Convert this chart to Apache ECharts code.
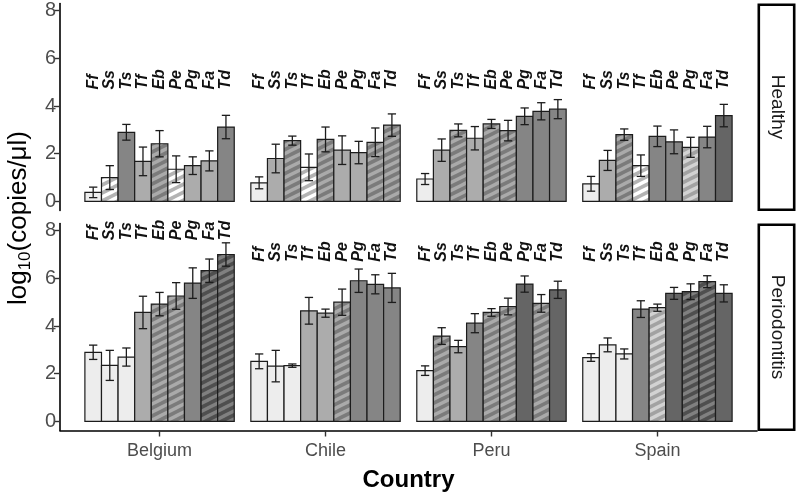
<!DOCTYPE html>
<html><head><meta charset="utf-8">
<script src="https://cdn.jsdelivr.net/npm/echarts@6/dist/echarts.min.js"></script>
<style>html,body{margin:0;padding:0;background:#fff}#c{width:800px;height:496px}</style>
</head><body><div id="c"></div>
<script>
// ---------------- data ----------------
const countries = ['Belgium', 'Chile', 'Peru', 'Spain'];
const species = ['Ff', 'Ss', 'Ts', 'Tf', 'Eb', 'Pe', 'Pg', 'Fa', 'Td'];
const conditions = ['Healthy', 'Periodontitis'];
const yTicks = [0, 2, 4, 6, 8];

// mean log10(copies/µl), one row per country (Belgium, Chile, Peru, Spain)
const healthyMean = [
  [0.38, 1.00, 2.90, 1.68, 2.42, 1.35, 1.50, 1.70, 3.12],
  [0.78, 1.80, 2.55, 1.43, 2.60, 2.15, 2.05, 2.48, 3.20],
  [0.94, 2.15, 2.98, 2.65, 3.25, 2.97, 3.57, 3.78, 3.87],
  [0.74, 1.72, 2.80, 1.50, 2.73, 2.50, 2.27, 2.70, 3.60]
];
const healthyErr = [
  [0.22, 0.50, 0.33, 0.60, 0.55, 0.56, 0.37, 0.42, 0.49],
  [0.25, 0.60, 0.19, 0.56, 0.52, 0.60, 0.47, 0.60, 0.47],
  [0.23, 0.47, 0.27, 0.49, 0.19, 0.43, 0.35, 0.36, 0.40],
  [0.31, 0.42, 0.24, 0.45, 0.43, 0.50, 0.42, 0.45, 0.47]
];
const perioMean = [
  [2.90, 2.35, 2.70, 4.57, 4.92, 5.26, 5.80, 6.32, 7.00],
  [2.52, 2.32, 2.34, 4.64, 4.54, 5.00, 5.90, 5.75, 5.60],
  [2.13, 3.58, 3.14, 4.12, 4.57, 4.82, 5.76, 4.95, 5.52],
  [2.68, 3.21, 2.83, 4.71, 4.77, 5.37, 5.44, 5.86, 5.37]
];
const perioErr = [
  [0.30, 0.63, 0.38, 0.68, 0.49, 0.56, 0.64, 0.49, 0.49],
  [0.31, 0.66, 0.07, 0.56, 0.17, 0.55, 0.49, 0.40, 0.61],
  [0.20, 0.35, 0.26, 0.40, 0.16, 0.35, 0.34, 0.37, 0.36],
  [0.16, 0.29, 0.21, 0.35, 0.15, 0.25, 0.33, 0.25, 0.36]
];
// fill class of each bar (solid level S0..S3, hatched class HA..HD)
const healthyClass = [
  ['S0', 'HA', 'S2', 'S1', 'HC', 'HA', 'S1', 'S1', 'S2'],
  ['S0', 'S1', 'HC', 'HA', 'HC', 'S1', 'S1', 'HC', 'HC'],
  ['S0', 'S1', 'HC', 'S1', 'HC', 'HC', 'S2', 'S2', 'S2'],
  ['S0', 'S1', 'HC', 'HA', 'S2', 'S2', 'HB', 'S2', 'S3']
];
const perioClass = [
  ['S0', 'S0', 'S0', 'S1', 'HC', 'HC', 'S2', 'HD', 'HD'],
  ['S0', 'S0', 'S0', 'S1', 'S1', 'HC', 'S2', 'S2', 'S2'],
  ['S0', 'HC', 'S1', 'S2', 'HC', 'HC', 'S3', 'HC', 'S3'],
  ['S0', 'S0', 'S0', 'S2', 'HB', 'S3', 'HD', 'HD', 'S3']
];
// height (data units) at which the species labels start, per country
const healthyLabelY = [4.69, 4.69, 4.69, 4.69];
const perioLabelY = [7.60, 6.70, 6.70, 6.70];

// ---------------- styles ----------------
const FONT = '"Liberation Sans", Arial, sans-serif';
function stripes(base, stripe) {
  const W = 16, H = 8;
  const cv = document.createElement('canvas');
  cv.width = W; cv.height = H;
  const g = cv.getContext('2d');
  g.fillStyle = base; g.fillRect(0, 0, W, H);
  g.strokeStyle = stripe; g.lineWidth = 3.4;
  for (let k = -2; k <= 2; k++) {
    g.beginPath(); g.moveTo(-W, 2 * H + k * H); g.lineTo(2 * W, -H + k * H); g.stroke();
  }
  return { image: cv, repeat: 'repeat' };
}
const palette = {
  S0: '#ededed', S1: '#acacac', S2: '#858585', S3: '#656565',
  HA: stripes('#b3b3b3', '#ffffff'),
  HB: stripes('#a2a2a2', '#d2d2d2'),
  HC: stripes('#7b7b7b', '#aaaaaa'),
  HD: stripes('#4f4f4f', '#808080')
};

const BAR_SPAN = 0.9, N = species.length, BW = BAR_SPAN / N;
function barX(c, j) { return c - BAR_SPAN / 2 + BW * (j + 0.5); }

function buildData(means, errs) {
  const out = [];
  means.forEach((row, k) => row.forEach((m, j) => out.push([k + 1, j, m, errs[k][j]])));
  return out;
}
function buildLabels(ly) {
  const out = [];
  ly.forEach((y, k) => species.forEach((s, j) => out.push([k + 1, j, y])));
  return out;
}

const means = [healthyMean, perioMean];
const errs = [healthyErr, perioErr];
const classes = [healthyClass, perioClass];
const labelYs = [healthyLabelY, perioLabelY];

const series = [];
for (let ci = 0; ci < 2; ci++) {
  const cls = classes[ci];
  series.push({
    type: 'custom', xAxisIndex: ci, yAxisIndex: ci, z: 2,
    data: buildData(means[ci], errs[ci]),
    renderItem(params, api) {
      const c = api.value(0), j = api.value(1), m = api.value(2);
      const x = barX(c, j);
      const p0 = api.coord([x - BW / 2, 0]);
      const p1 = api.coord([x + BW / 2, m]);
      const k = c - 1;
      return {
        type: 'rect',
        shape: { x: p0[0], y: p1[1], width: p1[0] - p0[0], height: p0[1] - p1[1] },
        style: { fill: palette[cls[k][j]], stroke: '#1c1c1c', lineWidth: 1.2 }
      };
    }
  });
  series.push({
    type: 'custom', xAxisIndex: ci, yAxisIndex: ci, z: 3,
    data: buildData(means[ci], errs[ci]),
    renderItem(params, api) {
      const c = api.value(0), j = api.value(1), m = api.value(2), e = api.value(3);
      const x = barX(c, j);
      const hi = api.coord([x, m + e]), lo = api.coord([x, m - e]);
      const hw = api.size([BW / 4, 0])[0];
      const st = { stroke: '#1c1c1c', lineWidth: 1.3 };
      return {
        type: 'group', children: [
          { type: 'line', shape: { x1: hi[0], y1: hi[1], x2: lo[0], y2: lo[1] }, style: st },
          { type: 'line', shape: { x1: hi[0] - hw, y1: hi[1], x2: hi[0] + hw, y2: hi[1] }, style: st },
          { type: 'line', shape: { x1: lo[0] - hw, y1: lo[1], x2: lo[0] + hw, y2: lo[1] }, style: st }
        ]
      };
    }
  });
  series.push({
    type: 'custom', xAxisIndex: ci, yAxisIndex: ci, z: 4,
    data: buildLabels(labelYs[ci]),
    renderItem(params, api) {
      const c = api.value(0), j = api.value(1), y = api.value(2);
      const p = api.coord([barX(c, j), y]);
      return {
        type: 'text', x: p[0], y: p[1], rotation: Math.PI / 2,
        style: {
          text: species[j], x: 0, y: 0, align: 'left', verticalAlign: 'middle',
          fill: '#111', font: 'italic bold 16px ' + FONT
        }
      };
    }
  });
}

const GL = 60, GW = 697, GH = 207, GT = [3.5, 223.5];
const YMIN = -0.38, YMAX = 8.3;

const chart = echarts.init(document.getElementById('c'), null, { renderer: 'canvas' });
chart.setOption({
  animation: false,
  backgroundColor: '#fff',
  grid: [
    { left: GL, width: GW, top: GT[0], height: GH },
    { left: GL, width: GW, top: GT[1], height: GH }
  ],
  xAxis: [0, 1].map(i => ({
    type: 'value', gridIndex: i, min: 0.4, max: 4.6,
    show: i === 1,
    splitLine: { show: false },
    axisLine: { show: true, onZero: false, lineStyle: { color: '#000', width: 1.6 } },
    axisTick: { show: true, customValues: [1, 2, 3, 4], length: 6, lineStyle: { color: '#333', width: 1.4 } },
    axisLabel: {
      show: true, customValues: [1, 2, 3, 4], margin: 12,
      formatter: v => countries[Math.round(v) - 1] || '',
      color: '#4d4d4d', fontSize: 18, fontFamily: FONT
    },
    name: i === 1 ? 'Country' : '',
    nameLocation: 'middle', nameGap: 38,
    nameTextStyle: { color: '#000', fontSize: 24, fontWeight: 'bold', fontFamily: FONT }
  })),
  yAxis: [0, 1].map(i => ({
    type: 'value', gridIndex: i, min: YMIN, max: YMAX,
    splitLine: { show: false },
    axisLine: { show: true, onZero: false, lineStyle: { color: '#000', width: 1.6 } },
    axisTick: { show: true, customValues: yTicks, length: 6, lineStyle: { color: '#333', width: 1.4 } },
    axisLabel: {
      show: true, customValues: yTicks, margin: 4,
      color: '#4d4d4d', fontSize: 20, fontFamily: FONT
    }
  })),
  graphic: [
    { type: 'rect', shape: { x: 758.8, y: 4.8, width: 35.4, height: 205 },
      style: { fill: '#fff', stroke: '#000', lineWidth: 2.6 } },
    { type: 'rect', shape: { x: 758.8, y: 224.8, width: 35.4, height: 205 },
      style: { fill: '#fff', stroke: '#000', lineWidth: 2.6 } },
    { type: 'text', x: 777, y: 107, rotation: -Math.PI / 2,
      style: { text: conditions[0], align: 'center', verticalAlign: 'middle', fill: '#1a1a1a', font: '19px ' + FONT } },
    { type: 'text', x: 777, y: 327, rotation: -Math.PI / 2,
      style: { text: conditions[1], align: 'center', verticalAlign: 'middle', fill: '#1a1a1a', font: '19px ' + FONT } },
    { type: 'text', x: 19, y: 218, rotation: Math.PI / 2,
      style: {
        text: '{a|log}{b|10}{a|(copies/μl)}', align: 'center', verticalAlign: 'middle',
        rich: {
          a: { fontSize: 26, fontFamily: FONT, fill: '#000', verticalAlign: 'middle', lineHeight: 30 },
          b: { fontSize: 17, fontFamily: FONT, fill: '#000', verticalAlign: 'bottom', lineHeight: 30 }
        }
      } }
  ],
  series
});
</script>
</body></html>
